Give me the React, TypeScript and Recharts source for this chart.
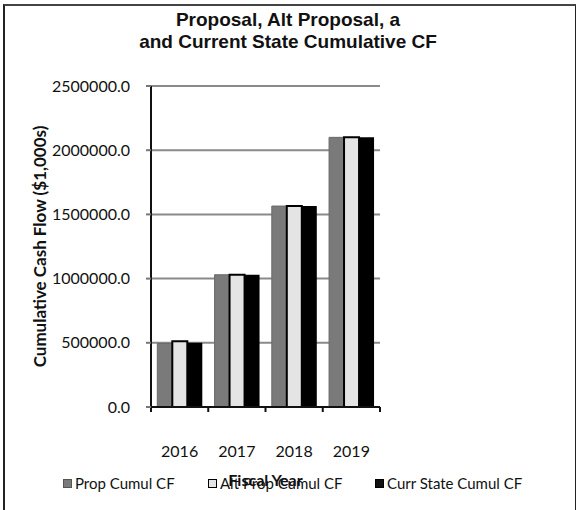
import { Bar, BarChart, CartesianGrid, Legend, XAxis, YAxis } from "recharts";

const years = ["2016", "2017", "2018", "2019"];
const propCumul = [495000, 1030000, 1565000, 2100000];
const altPropCumul = [512000, 1030000, 1565000, 2100000];
const currStateCumul = [500000, 1030000, 1565000, 2100000];
const yTicks = [0, 500000, 1000000, 1500000, 2000000, 2500000];
const edgeTicks = [0, 1, 2, 3, 4];

const data = years.map((year, i) => ({
  year,
  idx: i,
  prop: propCumul[i],
  alt: altPropCumul[i],
  curr: currStateCumul[i],
}));

const legendItems = [
  { name: "Prop Cumul CF", fill: "#7a7a7a", stroke: "#555", left: 63 },
  { name: "Alt Prop Cumul CF", fill: "#e4e4e4", stroke: "#000", left: 208 },
  { name: "Curr State Cumul CF", fill: "#111", stroke: "#000", left: 375 },
];

const font = "Lato, 'DejaVu Sans', sans-serif";

function LegendBox() {
  return (
    <div style={{ position: "relative", width: 576, height: 20 }}>
      {legendItems.map((it) => (
        <div
          key={it.name}
          style={{
            position: "absolute",
            left: it.left,
            top: 0,
            display: "flex",
            alignItems: "center",
            fontFamily: font,
            fontSize: 15,
            color: "#111",
          }}
        >
          <span
            style={{
              display: "inline-block",
              width: 7,
              height: 7,
              background: it.fill,
              border: `1.5px solid ${it.stroke}`,
              marginRight: 3,
            }}
          />
          {it.name}
        </div>
      ))}
    </div>
  );
}

export default function App() {
  return (
    <div style={{ position: "absolute", left: 0, top: 0, width: 576, height: 510, background: "#fff" }}>
      <div
        style={{
          position: "absolute",
          left: 3,
          top: 4,
          width: 570,
          height: 510,
          borderLeft: "2px solid #222",
          borderTop: "2px solid #444",
          borderRight: "2px solid #222",
        }}
      />
      <div
        style={{
          position: "absolute",
          left: 0,
          top: 9,
          width: 576,
          textAlign: "center",
          fontFamily: "'Liberation Sans', Arial, sans-serif",
          fontWeight: "bold",
          fontSize: 19,
          lineHeight: "22px",
          color: "#111",
        }}
      >
        Proposal, Alt Proposal, a
        <br />
        and Current State Cumulative CF
      </div>
      <BarChart
        width={576}
        height={510}
        data={data}
        margin={{ top: 86, right: 196, left: 35, bottom: 53 }}
        barCategoryGap="11%"
        barGap={0}
        style={{ position: "absolute", left: 0, top: 0 }}
      >
        <CartesianGrid vertical={false} stroke="#8a8a8a" strokeWidth={2} />
        <XAxis
          dataKey="year"
          height={30}
          axisLine={{ stroke: "#111", strokeWidth: 2 }}
          tickLine={false}
          tickMargin={33}
          tick={{ fill: "#111", fontFamily: font, fontSize: 16 }}
          label={{
            value: "Fiscal Year",
            position: "bottom",
            offset: 38,
            fill: "#111",
            fontFamily: font,
            fontSize: 16,
            fontWeight: "bold",
          }}
        />
        {/* tick marks sit between categories, like the original */}
        <XAxis
          xAxisId="edge"
          dataKey="idx"
          type="number"
          domain={[0, 4]}
          allowDataOverflow
          ticks={edgeTicks}
          interval={0}
          height={1}
          mirror
          axisLine={false}
          tick={{ fill: "none", fontSize: 10 }}
          tickLine={{ stroke: "#111", strokeWidth: 2 }}
          tickSize={-5}
        />
        <YAxis
          width={116}
          domain={[0, 2500000]}
          ticks={yTicks}
          tickFormatter={(v: number) => v.toFixed(1)}
          axisLine={{ stroke: "#111", strokeWidth: 2 }}
          tickLine={{ stroke: "#777", strokeWidth: 2 }}
          tickSize={5}
          tickMargin={16}
          tick={{ fill: "#111", fontFamily: font, fontSize: 16 }}
          label={{
            value: "Cumulative Cash Flow ($1,000s)",
            angle: -90,
            position: "insideLeft",
            offset: 5,
            style: { textAnchor: "middle" },
            fill: "#111",
            fontFamily: font,
            fontSize: 17,
            fontWeight: "bold",
          }}
        />
        <Legend
          content={() => <LegendBox />}
          wrapperStyle={{ left: 0, top: 474, width: 576 }}
        />
        <Bar dataKey="prop" name="Prop Cumul CF" fill="#7a7a7a" stroke="#6a6a6a" isAnimationActive={false} />
        <Bar dataKey="alt" name="Alt Prop Cumul CF" fill="#e4e4e4" stroke="#000" strokeWidth={2} isAnimationActive={false} />
        <Bar dataKey="curr" name="Curr State Cumul CF" fill="#000" isAnimationActive={false} />
      </BarChart>
    </div>
  );
}
